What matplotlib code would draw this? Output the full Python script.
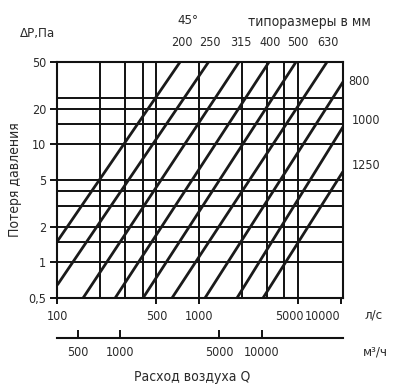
import matplotlib
matplotlib.use("Agg")
import matplotlib.pyplot as plt
import matplotlib.transforms as mtransforms
from matplotlib.ticker import FixedLocator, NullLocator, FixedFormatter

plt.rcParams['font.family'] = ['DejaVu Sans']
plt.rcParams['font.stretch'] = 'condensed'

# ---- data ----
sizes = [200, 250, 315, 400, 500, 630, 800, 1000, 1250]
q_hi = [735, 1167, 1916, 3119, 4836, 8002, 10380, 10380, 10380]
dp_hi = [50, 50, 50, 50, 50, 50, 33.9, 14.1, 5.9]
q_lo = [100, 100, 152, 256, 403, 645, 1102, 1854, 2829]
dp_lo = [1.51, 0.644, 0.5, 0.5, 0.5, 0.5, 0.5, 0.5, 0.5]

x_grid = [200, 300, 400, 500, 1000, 2000, 3000, 4000, 5000]
y_grid = [1, 1.5, 2, 3, 4, 5, 10, 15, 20, 25]
x_ticks = [100, 500, 1000, 5000, 10000]
x_ticklabels = ['100', '500', '1000', '5000', '10000']
y_ticks = [0.5, 1, 2, 5, 10, 20, 50]
y_ticklabels = ['0,5', '1', '2', '5', '10', '20', '50']
m3h_ticks = [500, 1000, 5000, 10000]
m3h_ticklabels = ['500', '1000', '5000', '10000']
q_min, q_max = 100, 10380
dp_min, dp_max = 0.5, 50

W, H = 398, 385
fig = plt.figure(figsize=(W / 100, H / 100), dpi=100)
L, R, T, B = 57.3, 343, 62, 298
ax = fig.add_axes([L / W, (H - B) / H, (R - L) / W, (B - T) / H])
ax.set_xscale('log')
ax.set_yscale('log')
ax.set_xlim(q_min, q_max)
ax.set_ylim(dp_min, dp_max)

txt = '#2a2a2a'
lc = '#111111'
for s in ax.spines.values():
    s.set_linewidth(1.5)
    s.set_color(lc)

for xv in x_grid:
    ax.axvline(xv, color=lc, lw=1.4, zorder=1)
for yv in y_grid:
    ax.axhline(yv, color=lc, lw=1.4, zorder=1)

# diagonal lines
for s, qh, dh, ql, dl in zip(sizes, q_hi, dp_hi, q_lo, dp_lo):
    ax.plot([ql, qh], [dl, dh], color='#1a1a1a', lw=2.0, zorder=2,
            solid_capstyle='butt')

ax.xaxis.set_major_locator(FixedLocator(x_ticks))
ax.xaxis.set_major_formatter(FixedFormatter(x_ticklabels))
ax.xaxis.set_minor_locator(NullLocator())
ax.yaxis.set_major_locator(FixedLocator(y_ticks))
ax.yaxis.set_major_formatter(FixedFormatter(y_ticklabels))
ax.yaxis.set_minor_locator(NullLocator())
ax.tick_params(axis='x', length=4, width=1.4, pad=5, labelsize=9, labelcolor=txt, color=lc)
ax.tick_params(axis='y', length=5, width=1.4, pad=3, labelsize=9, labelcolor=txt, color=lc)

# shift the crowded labels left like the original
shifts = {'5000': -9, '10000': -18}
for lab in ax.get_xticklabels():
    if lab.get_text() in shifts:
        lab.set_transform(lab.get_transform() +
                          mtransforms.ScaledTranslation(shifts[lab.get_text()] / 100, 0,
                                                        fig.dpi_scale_trans))

# secondary axis m3/h
sec = ax.secondary_xaxis((B - 338) / (B - T),
                         functions=(lambda q: q * 3.6, lambda m: m / 3.6))
sec.xaxis.set_major_locator(FixedLocator(m3h_ticks))
sec.xaxis.set_major_formatter(FixedFormatter(m3h_ticklabels))
sec.xaxis.set_minor_locator(NullLocator())
sec.tick_params(axis='x', direction='in', length=6, width=1.4, pad=6,
                labelsize=9, labelcolor=txt, color=lc)
sec.spines['bottom'].set_linewidth(1.5)
sec.spines['bottom'].set_color(lc)

# size labels
for s, qh, dh in zip(sizes, q_hi, dp_hi):
    if dh >= dp_max:
        ax.annotate(str(s), (qh, dh), xytext=(1, 9), textcoords='offset points',
                    ha='center', va='bottom', fontsize=9, color=txt,
                    annotation_clip=False)
    else:
        ax.annotate(str(s), (q_max, dh), xytext=(4 if s == 800 else 6, 0),
                    textcoords='offset points', ha='left',
                    va='center' if s == 800 else 'bottom',
                    fontsize=9, color=txt, annotation_clip=False)

def ftext(x, y, s, size=9, **kw):
    fig.text(x / W, 1 - y / H, s, color=txt, fontsize=size, **kw)

ftext(188, 21, '45°', size=9.5, ha='center', va='center')
ftext(309, 22, 'типоразмеры в мм', size=10, ha='center', va='center')
ftext(38, 33, 'ΔР,Па', size=9.5, ha='center', va='center')
ftext(15, 180, 'Потеря давления', size=10, ha='center', va='center', rotation=90)
ftext(374, 315, 'л/с', size=9.5, ha='center', va='center')
ftext(375, 352, 'м³/ч', size=9.5, ha='center', va='center')
ftext(192, 377, 'Расход воздуха Q', size=10, ha='center', va='center')

fig.savefig('out.png', dpi=100, facecolor='white')
